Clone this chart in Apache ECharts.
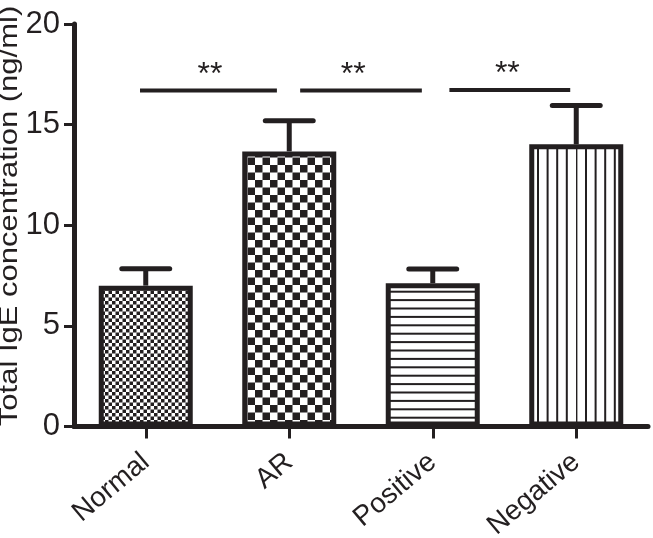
<!DOCTYPE html>
<html>
<head>
<meta charset="utf-8">
<script src="https://cdn.jsdelivr.net/npm/echarts@6/dist/echarts.min.js"></script>
<style>
html,body{margin:0;padding:0;background:#fff;}
#chart{width:653px;height:538px;}
</style>
</head>
<body>
<div id="chart"></div>
<script>
// ---- data ----
const categories = ['Normal', 'AR', 'Positive', 'Negative'];
const meanValues = [7.0, 13.67, 7.12, 14.02];
const errorTops = [7.84, 15.19, 7.82, 15.95];
const yAxisName = 'Total IgE concentration (ng/ml)';
const yMin = 0, yMax = 20, yInterval = 5;
// significance brackets (x in category units)
const sigStart = [-0.04, 1.076, 2.116];
const sigEnd = [0.914, 1.924, 2.958];
const sigLevel = [16.7, 16.7, 16.72];
const sigLabelX = [0.448, 1.446, 2.52];
const sigLabelY = [17.47, 17.47, 17.5];
const sigLabel = ['**', '**', '**'];

const INK = '#231f20';
const FONT = 'Liberation Sans, Arial, sans-serif';

function makeTile(w, h, draw) {
  const c = document.createElement('canvas');
  c.width = w; c.height = h;
  const ctx = c.getContext('2d');
  ctx.fillStyle = '#fff';
  ctx.fillRect(0, 0, w, h);
  ctx.fillStyle = INK;
  draw(ctx);
  return c;
}
const fineChecker = makeTile(7, 7, ctx => { ctx.fillRect(0, 0, 3.5, 3.5); ctx.fillRect(3.5, 3.5, 3.5, 3.5); });
const coarseChecker = makeTile(15, 15, ctx => { ctx.fillRect(0, 0, 7.5, 7.5); ctx.fillRect(7.5, 7.5, 7.5, 7.5); });
const hLines = makeTile(4, 42, ctx => { [6.1, 14.5, 22.9, 31.3, 39.7].forEach(y => ctx.fillRect(0, y - 1, 4, 2)); });
const vLines = makeTile(48, 4, ctx => { [0.4, 10, 19.6, 29.2, 38.8].forEach(x => ctx.fillRect(x - 1, 0, 2, 4)); });
const patterns = [fineChecker, coarseChecker, hLines, vLines];

const chart = echarts.init(document.getElementById('chart'), null, { renderer: 'canvas' });

const option = {
  backgroundColor: '#fff',
  animation: false,
  grid: { left: 74, right: 5, top: 24, bottom: 111.5, containLabel: false, outerBoundsMode: 'none' },
  xAxis: [{
    type: 'category',
    data: categories,
    axisLine: { show: true, onZero: false, lineStyle: { color: INK, width: 5 } },
    axisTick: { show: true, alignWithLabel: true, length: 12, lineStyle: { color: INK, width: 3 } },
    axisLabel: { rotate: 40, margin: 32, color: INK, fontSize: 28, fontFamily: FONT, interval: 0 },
    splitLine: { show: false }
  }, {
    type: 'value', min: -0.5, max: 3.5, show: false
  }],
  yAxis: [{
    type: 'value',
    min: yMin, max: yMax, interval: yInterval,
    axisLine: { show: true, onZero: false, lineStyle: { color: INK, width: 5 } },
    axisTick: { show: true, length: 10, lineStyle: { color: INK, width: 3 } },
    axisLabel: { margin: 14, color: INK, fontSize: 31, fontFamily: FONT },
    splitLine: { show: false }
  }],
  graphic: [{
    type: 'text',
    x: 10, y: 216,
    rotation: Math.PI / 2,
    scaleX: 1.24,
    style: { text: yAxisName, fontSize: 25, fontFamily: FONT, fill: INK, align: 'center', verticalAlign: 'middle' }
  }],
  series: [{
    type: 'bar',
    barWidth: 94,
    data: meanValues.map((v, i) => ({
      value: v,
      itemStyle: { color: { image: patterns[i], repeat: 'repeat' }, borderColor: INK, borderWidth: 5 }
    })),
    z: 3
  }, {
    type: 'custom',
    z: 2,
    data: categories.map((c, i) => [i, meanValues[i], errorTops[i]]),
    encode: { x: 0, y: [1, 2] },
    renderItem(params, api) {
      const x = api.value(0);
      const pLo = api.coord([x, api.value(1)]);
      const pHi = api.coord([x, api.value(2)]);
      const half = api.size([1, 0])[0] * 0.167;
      return {
        type: 'group',
        children: [
          { type: 'line', shape: { x1: pLo[0], y1: pLo[1], x2: pHi[0], y2: pHi[1] }, style: { stroke: INK, lineWidth: 5 } },
          { type: 'line', shape: { x1: pHi[0] - half, y1: pHi[1], x2: pHi[0] + half, y2: pHi[1] }, style: { stroke: INK, lineWidth: 5, lineCap: 'round' } }
        ]
      };
    }
  }, {
    type: 'custom',
    xAxisIndex: 1,
    z: 4,
    data: sigStart.map((s, i) => [s, sigEnd[i], sigLevel[i], sigLabelX[i], sigLabelY[i]]),
    encode: { x: [0, 1, 3], y: [2, 4] },
    renderItem(params, api) {
      const a = api.coord([api.value(0), api.value(2)]);
      const b = api.coord([api.value(1), api.value(2)]);
      const t = api.coord([api.value(3), api.value(4)]);
      return {
        type: 'group',
        children: [
          { type: 'line', shape: { x1: a[0], y1: a[1], x2: b[0], y2: b[1] }, style: { stroke: INK, lineWidth: 4 } },
          { type: 'text', x: t[0], y: t[1], style: { text: sigLabel[params.dataIndex], fontSize: 32, fontFamily: FONT, fill: INK, align: 'center', verticalAlign: 'middle' } }
        ]
      };
    }
  }]
};
chart.setOption(option);
</script>
</body>
</html>
